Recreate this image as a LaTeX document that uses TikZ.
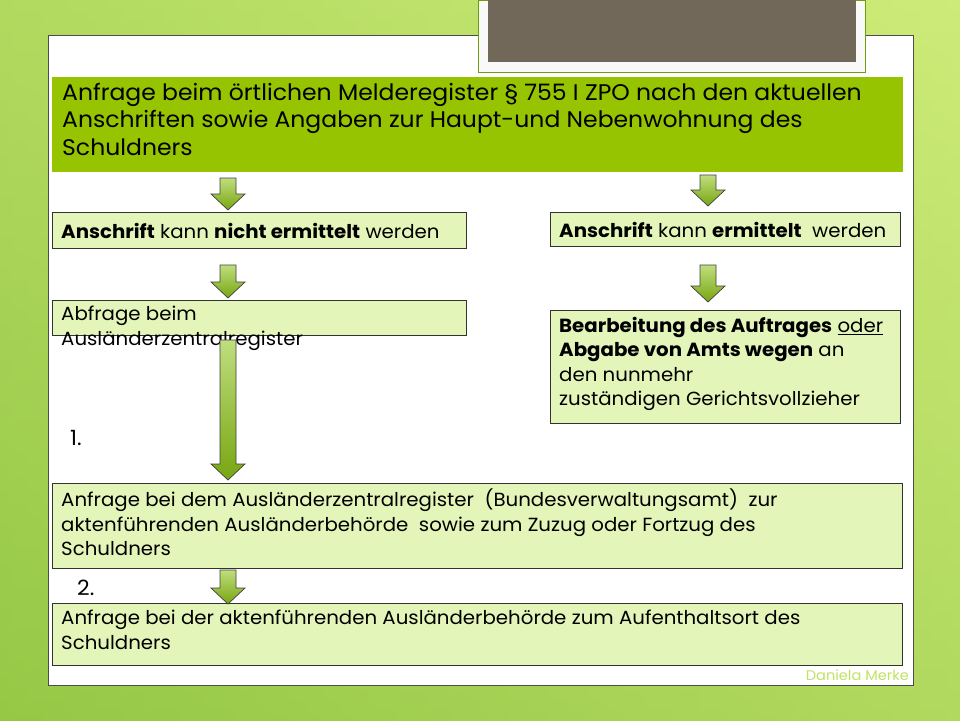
\documentclass[tikz,border=0pt]{standalone}
\usepackage{fontspec}
\setmainfont{Poppins}[FakeStretch=1.04]
\definecolor{bgA}{RGB}{150,200,70}
\definecolor{bgB}{RGB}{205,235,120}
\definecolor{topg}{RGB}{150,196,0}
\definecolor{boxg}{RGB}{228,245,185}
\definecolor{arrg}{RGB}{140,195,20}
\definecolor{brown}{RGB}{113,104,90}
\newcommand\blockarr[3]{% x, ytop, ybottom
  \coordinate (#1-#2) at (#1,#2);
  \shade[top color=arrg!55!white,bottom color=arrg!85!black,draw=black!75,line width=0.7pt]
   (#1-8,#2) -- (#1+8,#2) -- (#1+8,#3-16) -- (#1+17,#3-16) -- (#1,#3) -- (#1-17,#3-16) -- (#1-8,#3-16) -- cycle;}
\tikzset{
  x=1pt,y=-1pt,
  bx/.style={draw=black!80,fill=boxg,line width=0.8pt},
  txt/.style={anchor=north west,align=left,inner sep=0pt,font=\fontsize{19}{24.5}\selectfont},
}
\begin{document}
\begin{tikzpicture}
\useasboundingbox (0,0) rectangle (960,720);
\shade[left color=bgA,right color=bgB] (0,0) rectangle (960,720);
\shade[top color=bgB,bottom color=bgA,opacity=0.5] (0,0) rectangle (960,720);
\node[draw=black!70,fill=white,minimum width=865,minimum height=650,anchor=north west,inner sep=0pt] (panel) at (48,35) {};
\node[draw=arrg!80!black,line width=1.2pt,fill=white!95!gray,minimum width=387,minimum height=72,anchor=north west,inner sep=0pt] (deco) at (478,0) {};
\node[fill=brown,minimum width=368,minimum height=62,anchor=north west,inner sep=0pt] (decoin) at (488,0) {};
% top box
\node[fill=topg,minimum width=851,minimum height=95,anchor=north west,inner sep=0pt] (top) at (52,77) {};
\node[txt,font=\fontsize{22.6}{27.5}\selectfont] (toptxt) at (62,83) {Anfrage beim örtlichen Melderegister § 755 I ZPO nach den aktuellen\\Anschriften sowie Angaben zur Haupt-und Nebenwohnung des\\Schuldners};
% left 1
\node[bx,minimum width=414,minimum height=36,anchor=north west,inner sep=0pt] (l1) at (52,212) {};
\node[txt,anchor=west] (l1t) at (61,231) {\textbf{Anschrift} kann \textbf{nicht ermittelt} werden};
% right 1
\node[bx,minimum width=350,minimum height=34,anchor=north west,inner sep=0pt] (r1) at (550,212) {};
\node[txt,anchor=west] (r1t) at (559,230) {\textbf{Anschrift} kann \textbf{ermittelt}\ \ werden};
% left 2
\node[bx,minimum width=414,minimum height=35,anchor=north west,inner sep=0pt] (l2) at (52,300) {};
\node[txt] (l2t) at (61,306) {Abfrage beim\\Ausländerzentralregister};
% right 2
\node[bx,minimum width=350,minimum height=113,anchor=north west,inner sep=0pt] (r2) at (550,310) {};
\node[txt] (r2t) at (559,317) {\textbf{Bearbeitung des Auftrages} \underline{oder}\\\textbf{Abgabe von Amts wegen} an\\den nunmehr\\zuständigen Gerichtsvollzieher};
% labels
\node[txt,font=\fontsize{21}{22}\selectfont] (n1) at (70,430) {1.};
\node[txt,font=\fontsize{21}{22}\selectfont] (n2) at (77,580) {2.};
% left 3
\node[bx,minimum width=850,minimum height=85,anchor=north west,inner sep=0pt] (l3) at (52,483) {};
\node[txt] (l3t) at (61,489) {Anfrage bei dem Ausländerzentralregister\ \ (Bundesverwaltungsamt)\ \ zur\\aktenführenden Ausländerbehörde\ \ sowie zum Zuzug oder Fortzug des\\Schuldners};
% left 4
\node[bx,minimum width=850,minimum height=62,anchor=north west,inner sep=0pt] (l4) at (52,603) {};
\node[txt] (l4t) at (61,610) {Anfrage bei der aktenführenden Ausländerbehörde zum Aufenthaltsort des\\Schuldners};
\node[anchor=south east,inner sep=0pt,text=bgB!80!arrg,font=\fontsize{14}{15}\selectfont] (author) at (909,681) {Daniela Merke};
% arrows
\blockarr{228}{178}{210}
\blockarr{708}{175}{206}
\blockarr{228}{265}{298}
\blockarr{708}{265}{302}
\blockarr{228}{340}{480}
\blockarr{228}{570}{604}
\end{tikzpicture}
\end{document}
